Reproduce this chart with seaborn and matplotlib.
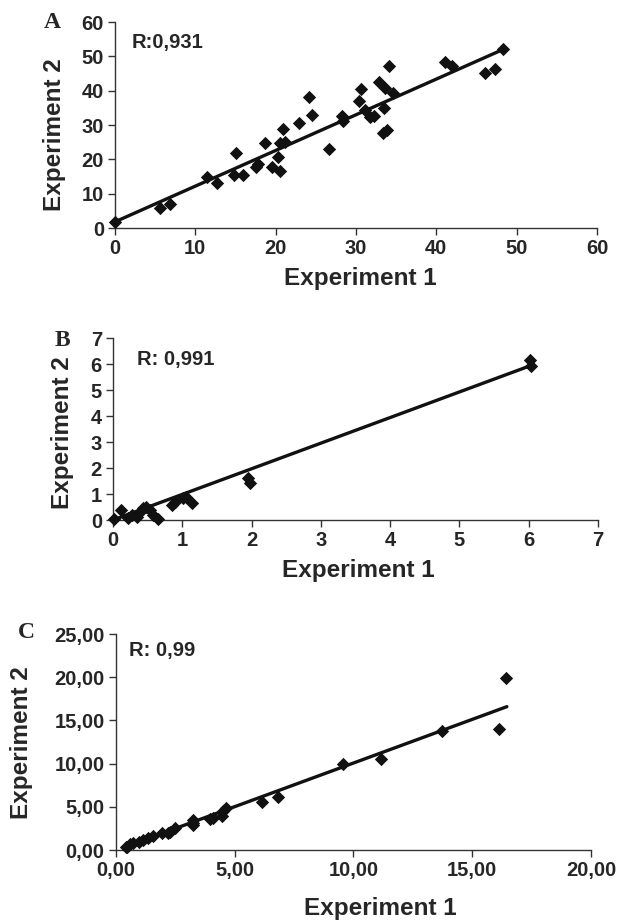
import matplotlib
matplotlib.use("Agg")
import matplotlib.pyplot as plt
import matplotlib.ticker as mticker
import seaborn as sns
import pandas as pd

# Panel A - Experiment 1 vs Experiment 2
a_exp1 = [0.0, 5.6, 6.8, 11.4, 12.7, 15.1, 14.8, 15.9, 17.6, 17.8, 18.7, 19.5, 20.3, 20.5,
          20.5, 20.9, 21.2, 22.9, 24.2, 24.5, 26.6, 28.3, 28.4, 30.4, 30.6, 31.1, 31.8, 32.2,
          32.9, 33.5, 33.6, 33.4, 33.9, 34.1, 34.6, 41.1, 42.0, 46.1, 47.3, 48.3]
a_exp2 = [1.8, 5.9, 7.1, 14.9, 13.0, 21.9, 15.4, 15.4, 17.9, 18.5, 24.7, 17.9, 20.8, 16.5,
          24.8, 28.9, 25.1, 30.7, 38.2, 32.8, 23.0, 32.6, 31.2, 37.1, 40.4, 34.4, 32.2, 32.7,
          42.4, 35.0, 40.7, 27.6, 28.4, 47.2, 39.4, 48.3, 47.3, 45.2, 46.3, 52.0]
a_fit_x = [0.0, 48.3]
a_fit_y = [1.8, 52.0]
a_r = "R:0,931"

# Panel B
b_exp1 = [0.02, 0.12, 0.22, 0.27, 0.34, 0.39, 0.44, 0.48, 0.53, 0.58, 0.65, 0.85, 0.89,
          1.01, 1.06, 1.14, 1.95, 1.98, 6.02, 6.04]
b_exp2 = [0.02, 0.40, 0.06, 0.19, 0.13, 0.32, 0.45, 0.51, 0.38, 0.19, 0.02, 0.58, 0.70,
          0.83, 0.90, 0.64, 1.60, 1.41, 6.15, 5.92]
b_fit_x = [0.0, 6.04]
b_fit_y = [0.0, 5.95]
b_r = "R: 0,991"

# Panel C
c_exp1 = [0.43, 0.49, 0.60, 0.74, 1.00, 1.16, 1.38, 1.56, 1.94, 2.22, 2.29, 2.50, 3.24,
          3.27, 3.27, 3.97, 4.11, 4.49, 4.53, 4.64, 6.15, 6.85, 9.58, 11.17, 13.72, 16.14, 16.41]
c_exp2 = [0.39, 0.39, 0.70, 0.80, 0.96, 1.20, 1.40, 1.60, 2.00, 2.00, 2.10, 2.50, 2.89,
          3.16, 3.47, 3.55, 3.67, 3.97, 4.55, 4.82, 5.52, 6.17, 9.95, 10.53, 13.77, 14.04, 19.95]
c_fit_x = [0.43, 16.46]
c_fit_y = [0.39, 16.59]
c_r = "R: 0,99"

sns.set_style("ticks")
plt.rcParams["font.family"] = ["Liberation Sans", "DejaVu Sans"]
plt.rcParams["font.weight"] = "bold"

W, H = 641, 922
fig = plt.figure(figsize=(W / 100, H / 100), dpi=100)


def px_box(x0, y0, x1, y1):
    # pixel box (top-left origin) -> figure fraction
    return [x0 / W, 1 - y1 / H, (x1 - x0) / W, (y1 - y0) / H]


panels = [
    dict(box=(115, 22, 597, 228), x=a_exp1, y=a_exp2, fx=a_fit_x, fy=a_fit_y, r=a_r,
         lim=(0, 60), xt=range(0, 61, 10), yt=range(0, 61, 10), fmt=None,
         letter="A", lpos=(52, 22), rpos=(132, 48), ylab=(55, 135), xlab=(360, 279)),
    dict(box=(113, 338, 598, 520), x=b_exp1, y=b_exp2, fx=b_fit_x, fy=b_fit_y, r=b_r,
         lim=(0, 7), xt=range(0, 8), yt=range(0, 8), fmt=None,
         letter="B", lpos=(62, 340), rpos=(137, 365), ylab=(63, 433), xlab=(358, 570)),
    dict(box=(115.7, 634, 591, 850), x=c_exp1, y=c_exp2, fx=c_fit_x, fy=c_fit_y, r=c_r,
         lim=(0, 20), ylim=(0, 25), xt=range(0, 21, 5), yt=range(0, 26, 5), fmt="comma",
         letter="C", lpos=(26, 632), rpos=(129, 656), ylab=(22, 743), xlab=(380, 908)),
]

for p in panels:
    ax = fig.add_axes(px_box(*p["box"]))
    df = pd.DataFrame({"Experiment 1": p["x"], "Experiment 2": p["y"]})
    fit = pd.DataFrame({"x": p["fx"], "y": p["fy"]})
    sns.lineplot(data=fit, x="x", y="y", ax=ax, color="#111111", linewidth=2.4)
    sns.scatterplot(data=df, x="Experiment 1", y="Experiment 2", ax=ax, marker="D",
                    s=46, color="#111111", linewidth=0, zorder=3, clip_on=False)
    ax.set_xlim(*p["lim"])
    ax.set_ylim(*p.get("ylim", p["lim"]))
    ax.set_xticks(list(p["xt"]))
    ax.set_yticks(list(p["yt"]))
    if p["fmt"] == "comma":
        f = mticker.FuncFormatter(lambda v, pos: f"{v:.2f}".replace(".", ","))
        ax.xaxis.set_major_formatter(f)
        ax.yaxis.set_major_formatter(f)
    ax.set_xlabel("")
    ax.set_ylabel("")
    ax.tick_params(axis="both", labelsize=14.5, length=5, width=1, color="#333333", pad=3)
    for lab in ax.get_xticklabels() + ax.get_yticklabels():
        lab.set_fontweight("bold")
    sns.despine(ax=ax)
    for s in ("left", "bottom"):
        ax.spines[s].set_color("#333333")
        ax.spines[s].set_linewidth(1)

    fig.text(p["lpos"][0] / W, 1 - p["lpos"][1] / H, p["letter"], family="Liberation Serif",
             fontsize=17, fontweight="bold", ha="center", va="center")
    fig.text(p["rpos"][0] / W, 1 - p["rpos"][1] / H, p["r"], fontsize=14.5,
             fontweight="bold", ha="left", va="baseline")
    fig.text(p["ylab"][0] / W, 1 - p["ylab"][1] / H, "Experiment 2", fontsize=17.5,
             fontweight="bold", rotation=90, ha="center", va="center")
    fig.text(p["xlab"][0] / W, 1 - p["xlab"][1] / H, "Experiment 1", fontsize=17.5,
             fontweight="bold", ha="center", va="center")

fig.savefig("out.png", dpi=100)
